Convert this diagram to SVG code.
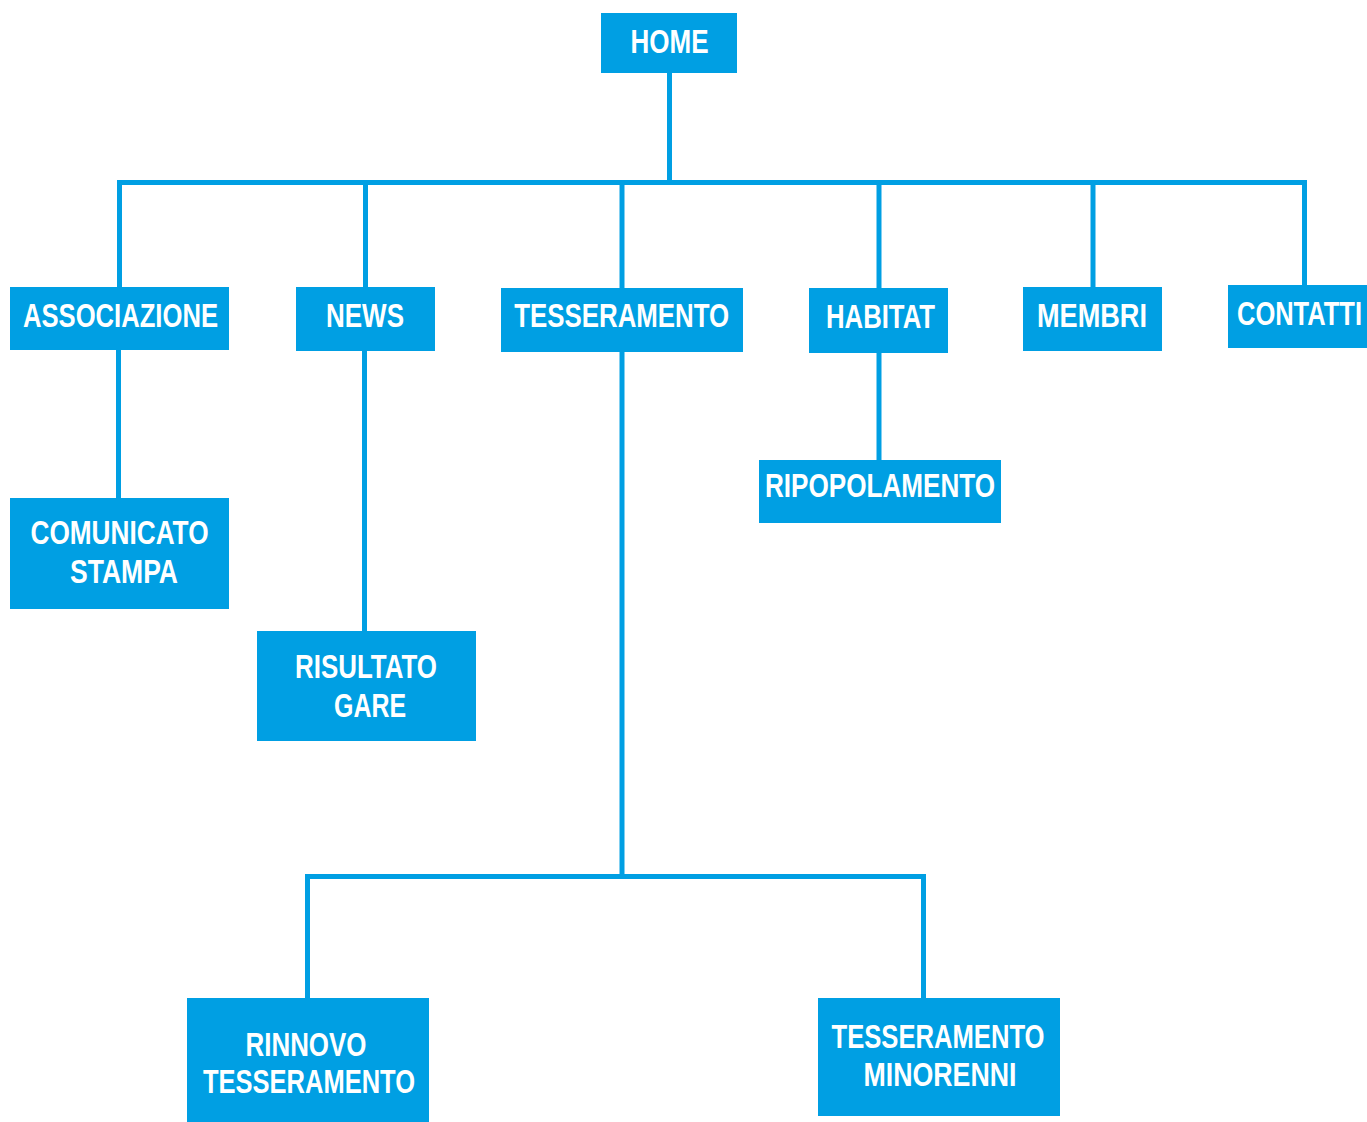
<svg xmlns="http://www.w3.org/2000/svg" width="1367" height="1122" viewBox="0 0 1367 1122">
<style>
.box{fill:#009FE3;}
.lbl{fill:#FFFFFF;font-family:"Liberation Sans Narrow","Liberation Sans","DejaVu Sans Condensed",sans-serif;font-weight:bold;font-size:33px;text-anchor:middle;}
.con{fill:none;stroke:#009FE3;stroke-width:5;stroke-linejoin:miter;}
</style>
<rect width="1367" height="1122" fill="#FFFFFF"/>
<g id="connectors">
<path class="con" d="M669.5,73 V182.5"/>
<path class="con" d="M119.5,287 V182.5 H1304.5 V285"/>
<path class="con" d="M365.5,182.5 V287"/>
<path class="con" d="M622,182.5 V288"/>
<path class="con" d="M879,182.5 V288"/>
<path class="con" d="M1093,182.5 V287"/>
<path class="con" d="M118.5,350 V498"/>
<path class="con" d="M364.5,351 V631"/>
<path class="con" d="M879,353 V460"/>
<path class="con" d="M622,352 V876.5"/>
<path class="con" d="M307.5,998 V876.5 H923.5 V998"/>
</g>
<g id="node-home">
<rect class="box" x="601" y="13" width="136" height="60"/>
<text class="lbl" x="669.5" y="53" font-size="35" textLength="78" lengthAdjust="spacingAndGlyphs">HOME</text>
</g>
<g id="node-associazione">
<rect class="box" x="10" y="287" width="219" height="63"/>
<text class="lbl" x="120.5" y="327" textLength="195" lengthAdjust="spacingAndGlyphs">ASSOCIAZIONE</text>
</g>
<g id="node-news">
<rect class="box" x="296" y="287" width="139" height="64"/>
<text class="lbl" x="365" y="327" textLength="78" lengthAdjust="spacingAndGlyphs">NEWS</text>
</g>
<g id="node-tesseramento">
<rect class="box" x="501" y="288" width="242" height="64"/>
<text class="lbl" x="621.7" y="327" textLength="215" lengthAdjust="spacingAndGlyphs">TESSERAMENTO</text>
</g>
<g id="node-habitat">
<rect class="box" x="809" y="288" width="139" height="65"/>
<text class="lbl" x="880.5" y="328" textLength="109" lengthAdjust="spacingAndGlyphs">HABITAT</text>
</g>
<g id="node-membri">
<rect class="box" x="1023" y="287" width="139" height="64"/>
<text class="lbl" x="1092" y="327" textLength="110" lengthAdjust="spacingAndGlyphs">MEMBRI</text>
</g>
<g id="node-contatti">
<rect class="box" x="1228" y="285" width="139" height="63"/>
<text class="lbl" x="1299.5" y="325" textLength="125" lengthAdjust="spacingAndGlyphs">CONTATTI</text>
</g>
<g id="node-comunicato-stampa">
<rect class="box" x="10" y="498" width="219" height="111"/>
<text class="lbl" x="119.5" y="544" textLength="178" lengthAdjust="spacingAndGlyphs">COMUNICATO</text>
<text class="lbl" x="124" y="583" textLength="108" lengthAdjust="spacingAndGlyphs">STAMPA</text>
</g>
<g id="node-risultato-gare">
<rect class="box" x="257" y="631" width="219" height="110"/>
<text class="lbl" x="366" y="678" textLength="142" lengthAdjust="spacingAndGlyphs">RISULTATO</text>
<text class="lbl" x="370" y="717" textLength="72" lengthAdjust="spacingAndGlyphs">GARE</text>
</g>
<g id="node-ripopolamento">
<rect class="box" x="759" y="460" width="242" height="63"/>
<text class="lbl" x="880" y="497" textLength="230" lengthAdjust="spacingAndGlyphs">RIPOPOLAMENTO</text>
</g>
<g id="node-rinnovo-tesseramento">
<rect class="box" x="187" y="998" width="242" height="124"/>
<text class="lbl" x="306" y="1056" textLength="121" lengthAdjust="spacingAndGlyphs">RINNOVO</text>
<text class="lbl" x="309" y="1093" textLength="212" lengthAdjust="spacingAndGlyphs">TESSERAMENTO</text>
</g>
<g id="node-tesseramento-minorenni">
<rect class="box" x="818" y="998" width="242" height="118"/>
<text class="lbl" x="938" y="1048" textLength="213" lengthAdjust="spacingAndGlyphs">TESSERAMENTO</text>
<text class="lbl" x="940" y="1086" textLength="153" lengthAdjust="spacingAndGlyphs">MINORENNI</text>
</g>
</svg>
